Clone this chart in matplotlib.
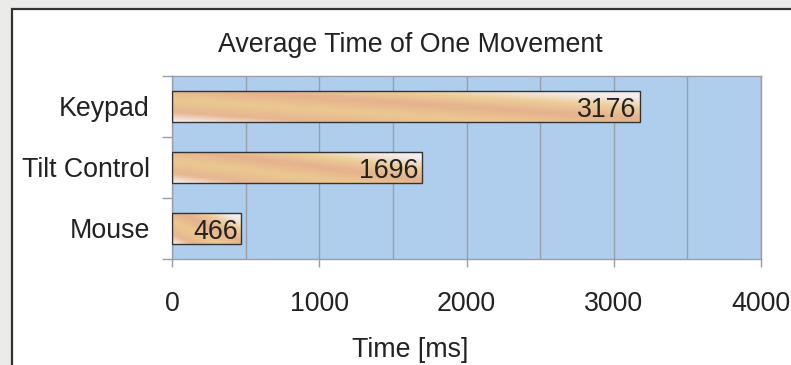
import numpy as np
import matplotlib.pyplot as plt
from matplotlib.colors import LinearSegmentedColormap
from matplotlib.patches import Rectangle

# données
methodes = ['Keypad', 'Tilt Control', 'Mouse']
temps_ms = [3176, 1696, 466]
graduations = [0, 1000, 2000, 3000, 4000]

plt.rcParams['font.family'] = ['Liberation Sans', 'DejaVu Sans']
texte = '#222222'
taille = 19.3

fig = plt.figure(figsize=(7.91, 3.65), dpi=100)
fig.patch.set_facecolor('#EBECE9')

# panneau blanc avec bordure
panneau = Rectangle((12 / 791, -0.1), 1.1, 1 - 9 / 365 + 0.1, transform=fig.transFigure,
                    facecolor='white', edgecolor='#333333', linewidth=1.6, zorder=-5)
fig.patches.append(panneau)

ax = fig.add_axes([172 / 791, 1 - 259 / 365, (761 - 172) / 791, (259 - 76) / 365])
ax.set_facecolor('#AFCDED')

y = np.arange(len(methodes))
barres = ax.barh(y, temps_ms, height=0.51, color='none', edgecolor='#333333',
                 linewidth=1.0, zorder=3)

# dégradé diagonal dans chaque barre (blanc en bas à gauche et en haut à droite)
degrade = LinearSegmentedColormap.from_list('degrade', [
    (0.0, '#F6F1F3'), (0.15, '#E6B690'), (0.35, '#ECC891'),
    (0.55, '#E5B28E'), (0.72, '#EDCD98'), (0.88, '#F4ECEC'), (1.0, '#F6F1F3')])
u, v = np.meshgrid(np.linspace(0, 1, 200), np.linspace(0, 1, 40))
t = (u + v) / 2
for b in barres:
    x0, y0 = b.get_x(), b.get_y()
    w, h = b.get_width(), b.get_height()
    im = ax.imshow(t, cmap=degrade, extent=(x0, x0 + w, y0 + h, y0), origin='lower',
                   aspect='auto', interpolation='bilinear', zorder=2)
    im.set_clip_path(b)

for yi, val in zip(y, temps_ms):
    ax.text(val - 20, yi + 0.05, str(val), ha='right', va='center',
            fontsize=taille, color=texte, zorder=4)

ax.set_xlim(0, 4000)
ax.set_ylim(2.5, -0.5)
ax.set_xticks(graduations)
ax.set_xticks(np.arange(0, 4001, 500), minor=True)
ax.xaxis.grid(True, which='both', color='#9A9EA6', linewidth=1.0, zorder=1)
ax.set_axisbelow(True)
ax.set_yticks(y)
ax.set_yticklabels(methodes)
ax.set_yticks([-0.5, 0.5, 1.5, 2.5], minor=True)

ax.tick_params(axis='y', which='major', length=0, pad=16, labelsize=taille, labelcolor=texte)
ax.tick_params(axis='y', which='minor', length=7, width=1, color='#9A9EA6', direction='out')
ax.tick_params(axis='x', which='major', length=6, width=1, color='#9A9EA6', pad=17,
               labelsize=taille, labelcolor=texte)
ax.tick_params(axis='x', which='minor', length=0)

for s in ax.spines.values():
    s.set_color('#9A9EA6')
    s.set_linewidth(1.0)

fig.text(410 / 791, 1 - 45 / 365, 'Average Time of One Movement', ha='center', va='center',
         fontsize=taille, color=texte)
fig.text(410 / 791, 1 - 350 / 365, 'Time [ms]', ha='center', va='center',
         fontsize=taille, color=texte)

plt.savefig('out.png', dpi=100, facecolor=fig.get_facecolor())
